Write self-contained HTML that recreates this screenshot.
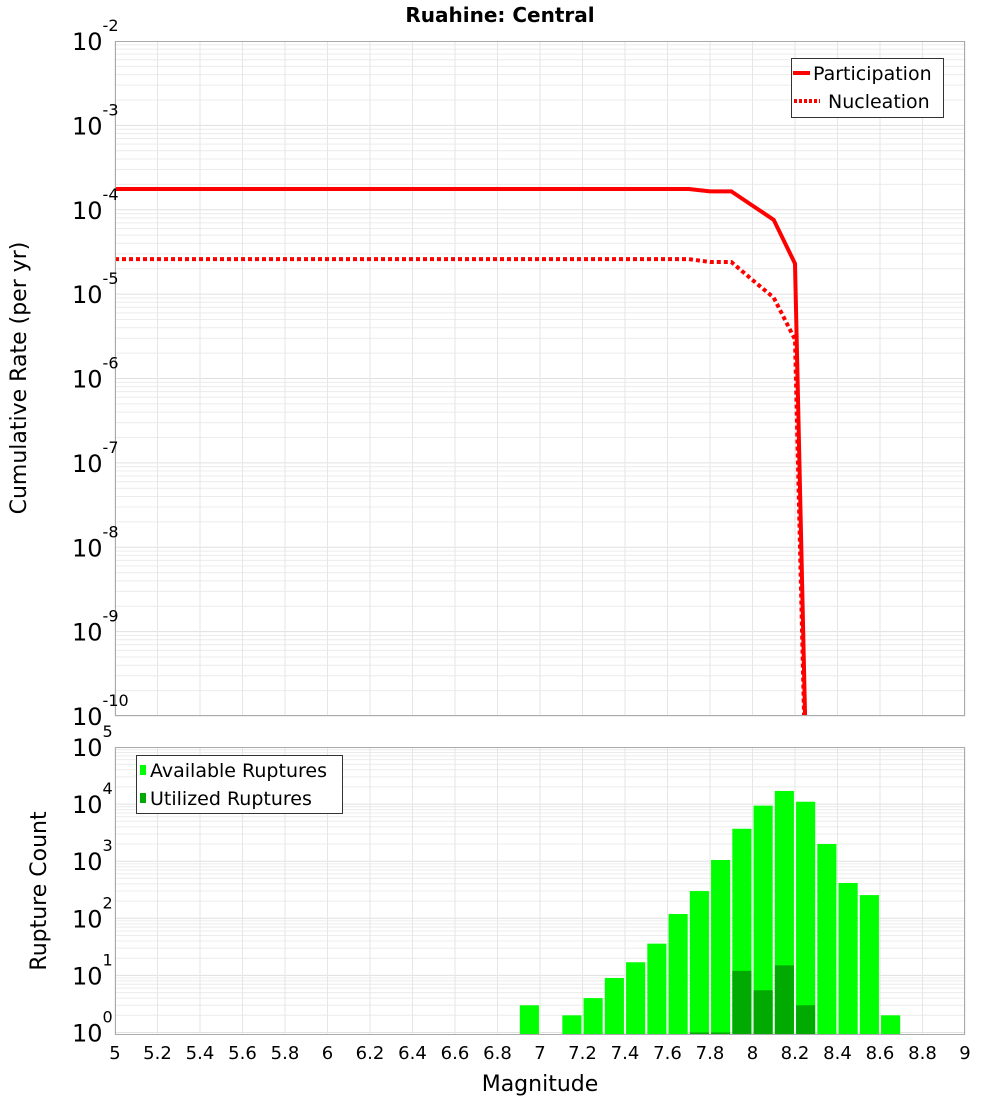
<!DOCTYPE html>
<html><head><meta charset="utf-8"><style>
html,body{margin:0;padding:0;background:#fff;}
svg{display:block;font-family:"DejaVu Sans","Liberation Sans",sans-serif;}
</style></head><body>
<svg id="c" width="1000" height="1100" xmlns="http://www.w3.org/2000/svg">
<text x="500" y="22" text-anchor="middle" font-size="20" font-weight="bold">Ruahine: Central</text>
<g id="topg"></g>
<g id="botg"></g>
<text transform="translate(26,378) rotate(-90)" text-anchor="middle" font-size="22">Cumulative Rate (per yr)</text>
<text transform="translate(46,891) rotate(-90)" text-anchor="middle" font-size="22">Rupture Count</text>
<text x="540" y="1091" text-anchor="middle" font-size="22">Magnitude</text>
</svg>
<script>
const partMags=[5.0,7.7,7.8,7.9,8.0,8.1,8.2,8.3];
const partVals=[1.76e-4,1.76e-4,1.65e-4,1.65e-4,1.12e-4,7.6e-5,2.3e-5,1e-16];
const nuclMags=[5.0,7.7,7.8,7.9,8.0,8.1,8.2,8.3];
const nuclVals=[2.6e-5,2.6e-5,2.4e-5,2.4e-5,1.47e-5,9.1e-6,2.9e-6,1e-16];
const binMags=[6.95,7.15,7.25,7.35,7.45,7.55,7.65,7.75,7.85,7.95,8.05,8.15,8.25,8.35,8.45,8.55,8.65];
const availCounts=[3,2,4,9,17,36,119,300,1050,3700,9400,17000,11000,2000,415,255,2];
const utilMags=[7.75,7.85,7.95,8.05,8.15,8.25];
const utilCounts=[1,1,12,5.5,15,3];
const xTicks=[5,5.2,5.4,5.6,5.8,6,6.2,6.4,6.6,6.8,7,7.2,7.4,7.6,7.8,8,8.2,8.4,8.6,8.8,9];
const topExps=[-2,-3,-4,-5,-6,-7,-8,-9,-10];
const botExps=[5,4,3,2,1,0];

const NS="http://www.w3.org/2000/svg";
const X0=115,X1=965;
const xs=m=>X0+(m-5)/4*(X1-X0);
const T0=41,T1=716; const ty=v=>T0+(-2-Math.log10(v))*(T1-T0)/8;
const B0=747,B1=1035,BD=57.1; const by=v=>B0+(5-Math.log10(v))*BD;
function el(p,t,a,txt){const e=document.createElementNS(NS,t);for(const k in a)e.setAttribute(k,a[k]);if(txt!==undefined)e.textContent=txt;p.appendChild(e);return e;}
function grid(g,y0,y1,yfn,emin,emax){
  for(let e=emin;e<emax;e++)for(let k=1;k<10;k++){const y=yfn(k*Math.pow(10,e));if(y>=y0&&y<=y1){
    const l=el(g,'line',{x1:X0,x2:X1,y1:y,y2:y,stroke:k==1?'#e0e0e0':'#ececec','stroke-width':1});
    
    }}
  xTicks.forEach(m=>{const l=el(g,'line',{x1:xs(m),x2:xs(m),y1:y0,y2:y1,stroke:'#e6e6e6','stroke-width':1});
    
    });
}
const topG=document.getElementById('topg'), botG=document.getElementById('botg');
grid(topG,T0,T1,ty,-10,-2);
grid(botG,B0,B1,by,-1,5);
const defs=el(document.getElementById('c'),'defs',{});
const cp=el(defs,'clipPath',{id:'tc'});el(cp,'rect',{x:X0,y:T0,width:X1-X0,height:T1-T0});
function drawLine(mags,vals,dash,name){
  const pts=mags.map((m,i)=>xs(m).toFixed(1)+','+ty(vals[i]).toFixed(1)).join(' ');
  const a={points:pts,fill:'none',stroke:'#ff0000','stroke-width':4,'clip-path':'url(#tc)'};
  if(dash)a['stroke-dasharray']='4,3';
  const p=el(topG,'polyline',a);
  
  
}
drawLine(partMags,partVals,false,'participation-line');
drawLine(nuclMags,nuclVals,true,'nucleation-line');
const bw=(X1-X0)/40*0.9;
binMags.forEach((m,i)=>{const y=by(availCounts[i]);
  const r=el(botG,'rect',{x:xs(m)-bw/2,y:y,width:bw,height:B1-y,fill:'#00ff00'});
  
  });
utilMags.forEach((m,i)=>{const y=by(utilCounts[i]);
  const r=el(botG,'rect',{x:xs(m)-bw/2,y:y,width:bw,height:B1-y,fill:'#00aa00'});
  
  });
[[T0,T1,topG],[B0,B1,botG]].forEach(([a,b,g])=>{const r=el(g,'rect',{x:X0+.5,y:a+.5,width:X1-X0-1,height:b-a-1,fill:'none',stroke:'#aaaaaa'});
  
  });
function ylab(g,y,e,name){const t=el(g,'text',{x:72,y:y+9,'font-size':24});
  
  
  el(t,'tspan',{},'10');el(t,'tspan',{dy:-19,'font-size':16},String(e));}
topExps.forEach(e=>ylab(topG,ty(Math.pow(10,e)),e,'y-tick-label-rate'));
botExps.forEach(e=>ylab(botG,by(Math.pow(10,e)),e,'y-tick-label-count'));
xTicks.forEach(m=>{const t=el(botG,'text',{x:xs(m),y:1059,'text-anchor':'middle','font-size':18},String(m));
  
  });
const lg=el(topG,'g',{});


el(lg,'rect',{x:791.5,y:58.5,width:152,height:59,fill:'#fff',stroke:'#333'});
el(lg,'line',{x1:793,x2:810,y1:73,y2:73,stroke:'#f00','stroke-width':4});
el(lg,'text',{x:813,y:80,'font-size':19},'Participation');
el(lg,'line',{x1:794,x2:820,y1:101,y2:101,stroke:'#f00','stroke-width':4,'stroke-dasharray':'3,2'});
el(lg,'text',{x:828,y:108,'font-size':19},'Nucleation');
const lb=el(botG,'g',{});


el(lb,'rect',{x:136.5,y:755.5,width:206,height:58,fill:'#fff',stroke:'#333'});
el(lb,'rect',{x:140,y:765,width:6,height:10,fill:'#00ff00'});
el(lb,'text',{x:150,y:777,'font-size':19},'Available Ruptures');
el(lb,'rect',{x:140,y:793,width:6,height:10,fill:'#00aa00'});
el(lb,'text',{x:150,y:805,'font-size':19},'Utilized Ruptures');
</script>
</body></html>
